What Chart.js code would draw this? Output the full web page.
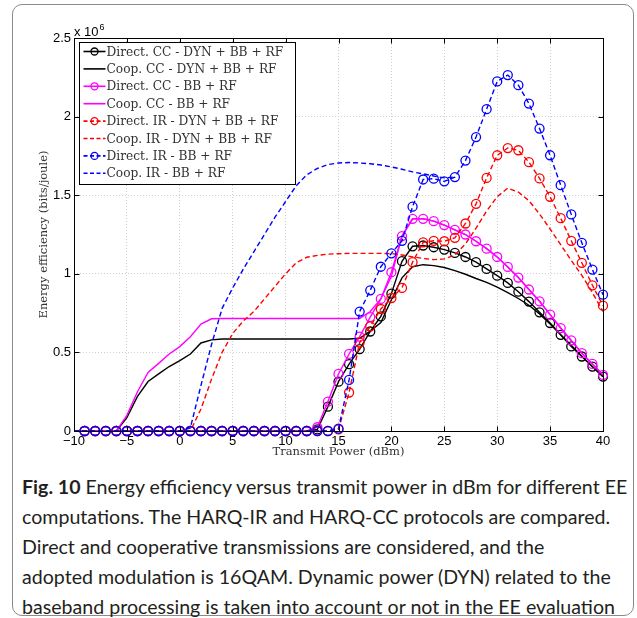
<!DOCTYPE html>
<html>
<head>
<meta charset="utf-8">
<script src="https://cdn.jsdelivr.net/npm/chart.js@4/dist/chart.umd.min.js"></script>
<style>
    html, body {
        margin: 0;
        padding: 0;
        background: #fff;
    }
    .page {
        position: relative;
        width: 637px;
        height: 618px;
        overflow: hidden;
    }
    .frame {
        position: absolute;
        left: 12px;
        top: 4px;
        width: 620px;
        height: 610px;
        border: 1.5px solid #8a8a8a;
        border-radius: 10px;
    }
    #eeChart {
        position: absolute;
        left: 0;
        top: 0;
    }
    .caption {
        position: absolute;
        left: 22px;
        top: 472px;
        font-family: Lato, "Open Sans", sans-serif;
        font-size: 19.6px;
        line-height: 30px;
        letter-spacing: 0;
        color: #231f20;
        white-space: nowrap;
    }
    .caption b {
        font-weight: 700;
    }
</style>
</head>
<body>
<div class="page">
    <div class="frame"></div>
    <canvas id="eeChart" width="637" height="468"></canvas>
    <div class="caption">
        <b>Fig. 10</b> Energy efficiency versus transmit power in dBm for different EE<br>
        computations. The HARQ-IR and HARQ-CC protocols are compared.<br>
        Direct and cooperative transmissions are considered, and the<br>
        adopted modulation is 16QAM. Dynamic power (DYN) related to the<br>
        baseband processing is taken into account or not in the EE evaluation
    </div>
</div>

<script>
// Transmit power grid (dBm)
const powerDbm = [
    -10, -9, -8, -7, -6, -5, -4, -3, -2, -1,
    0, 1, 2, 3, 4, 5, 6, 7, 8, 9,
    10, 11, 12, 13, 14, 15, 16, 17, 18, 19,
    20, 21, 22, 23, 24, 25, 26, 27, 28, 29,
    30, 31, 32, 33, 34, 35, 36, 37, 38, 39,
    40
];

// Energy efficiency, in units of 1e6 bits/joule
const directCcDyn = [
    0, 0, 0, 0, 0, 0, 0, 0, 0, 0,
    0, 0, 0, 0, 0, 0, 0, 0, 0, 0,
    0, 0, 0, 0.01, 0.155, 0.314, 0.425, 0.521, 0.633, 0.729,
    0.874, 1.08, 1.175, 1.18, 1.169, 1.154, 1.133, 1.107, 1.074, 1.031,
    0.988, 0.942, 0.886, 0.823, 0.755, 0.687, 0.612, 0.538, 0.474, 0.41,
    0.346
];
const coopCcDyn = [
    0, 0, 0, 0, 0, 0.085, 0.22, 0.315, 0.363, 0.41,
    0.448, 0.49, 0.56, 0.58, 0.585, 0.585, 0.585, 0.585, 0.585, 0.585,
    0.585, 0.585, 0.585, 0.585, 0.585, 0.585, 0.585, 0.59, 0.635, 0.69,
    0.835, 0.974, 1.045, 1.058, 1.052, 1.04, 1.02, 0.997, 0.97, 0.945,
    0.915, 0.88, 0.843, 0.8, 0.745, 0.68, 0.613, 0.545, 0.475, 0.408,
    0.345
];
const directCcBb = [
    0, 0, 0, 0, 0, 0, 0, 0, 0, 0,
    0, 0, 0, 0, 0, 0, 0, 0, 0, 0,
    0, 0, 0, 0.024, 0.187, 0.363, 0.49, 0.6, 0.725, 0.84,
    1.01, 1.24, 1.35, 1.35, 1.335, 1.31, 1.28, 1.25, 1.207, 1.16,
    1.107, 1.044, 0.976, 0.9, 0.825, 0.74, 0.655, 0.576, 0.495, 0.427,
    0.357
];
const coopCcBb = [
    0, 0, 0, 0, 0, 0.1, 0.25, 0.372, 0.43, 0.49,
    0.537, 0.6, 0.68, 0.714, 0.716, 0.716, 0.716, 0.716, 0.716, 0.716,
    0.716, 0.716, 0.716, 0.716, 0.716, 0.716, 0.716, 0.716, 0.76, 0.84,
    0.984, 1.24, 1.35, 1.35, 1.335, 1.31, 1.28, 1.25, 1.207, 1.16,
    1.107, 1.044, 0.976, 0.9, 0.825, 0.74, 0.655, 0.576, 0.495, 0.427,
    0.357
];
const directIrDyn = [
    0, 0, 0, 0, 0, 0, 0, 0, 0, 0,
    0, 0, 0, 0, 0, 0, 0, 0, 0, 0,
    0, 0, 0, 0, 0, 0.01, 0.245, 0.563, 0.665, 0.776,
    0.846, 0.91, 1.074, 1.2, 1.21, 1.207, 1.229, 1.32, 1.445, 1.61,
    1.754, 1.8, 1.786, 1.71, 1.607, 1.49, 1.354, 1.21, 1.07, 0.927,
    0.797
];
const coopIrDyn = [
    0, 0, 0, 0, 0, 0, 0, 0, 0, 0,
    0, 0, 0.14, 0.33, 0.5, 0.62, 0.7, 0.76, 0.84, 0.92,
    1.0, 1.07, 1.105, 1.117, 1.125, 1.128, 1.13, 1.13, 1.13, 1.13,
    1.128, 1.12, 1.108, 1.098, 1.09, 1.095, 1.12, 1.19, 1.29, 1.4,
    1.49, 1.545, 1.52, 1.465, 1.38, 1.285, 1.185, 1.085, 0.99, 0.88,
    0.76
];
const directIrBb = [
    0, 0, 0, 0, 0, 0, 0, 0, 0, 0,
    0, 0, 0, 0, 0, 0, 0, 0, 0, 0,
    0, 0, 0, 0, 0, 0.015, 0.325, 0.76, 0.895, 1.045,
    1.13, 1.21, 1.427, 1.6, 1.605, 1.588, 1.615, 1.72, 1.87, 2.047,
    2.224, 2.264, 2.2, 2.083, 1.924, 1.754, 1.564, 1.378, 1.197, 1.027,
    0.867
];
// from 26 dBm on this one runs on top of directIrBb, so it stops there
const coopIrBb = [
    0, 0, 0, 0, 0, 0, 0, 0, 0, 0,
    0, 0.02, 0.29, 0.55, 0.78, 0.91, 1.03, 1.14, 1.25, 1.36,
    1.46, 1.56, 1.63, 1.67, 1.695, 1.705, 1.708, 1.705, 1.7, 1.692,
    1.68, 1.665, 1.648, 1.636, 1.622, 1.61, 1.615, null, null, null,
    null, null, null, null, null, null, null, null, null, null,
    null
];

const xTicks = [-10, -5, 0, 5, 10, 15, 20, 25, 30, 35, 40];
const yTicks = [0, 0.5, 1, 1.5, 2, 2.5];

const seriesDefs = [
    { label: 'Direct. CC - DYN + BB + RF', values: directCcDyn, color: '#000000', dashed: false, marker: true },
    { label: 'Coop. CC - DYN + BB + RF', values: coopCcDyn, color: '#000000', dashed: false, marker: false },
    { label: 'Direct. CC - BB + RF', values: directCcBb, color: '#ff00ff', dashed: false, marker: true },
    { label: 'Coop. CC - BB + RF', values: coopCcBb, color: '#ff00ff', dashed: false, marker: false },
    { label: 'Direct. IR - DYN + BB + RF', values: directIrDyn, color: '#ff0000', dashed: true, marker: true },
    { label: 'Coop. IR - DYN + BB + RF', values: coopIrDyn, color: '#ff0000', dashed: true, marker: false },
    { label: 'Direct. IR - BB + RF', values: directIrBb, color: '#0000ff', dashed: true, marker: true },
    { label: 'Coop. IR - BB + RF', values: coopIrBb, color: '#0000ff', dashed: true, marker: false },
];

const LINE_DASH = [5, 3];
const MARKER_RADIUS = 4.5;

function markerRadius(def) {
    // no marker on the very first sample, it sits on the y axis
    return (ctx) => (def.marker && ctx.dataIndex > 0 ? MARKER_RADIUS : 0);
}

const datasets = seriesDefs.map((def, i) => ({
    label: def.label,
    data: powerDbm.map((x, k) => ({ x: x, y: def.values[k] })),
    borderColor: def.color,
    borderWidth: 1.4,
    borderDash: def.dashed ? LINE_DASH : [],
    tension: 0,
    fill: false,
    clip: false,
    spanGaps: false,
    pointStyle: 'circle',
    pointRadius: markerRadius(def),
    pointHoverRadius: 0,
    pointBorderColor: def.color,
    pointBorderWidth: 1.3,
    pointBackgroundColor: 'rgba(0,0,0,0)',
    // later series are painted over earlier ones
    order: seriesDefs.length - i,
}));

function formatTick(value) {
    return value < 0 ? '\u2212' + Math.abs(value) : String(value);
}

// Box, inward ticks, axis titles, exponent and legend
const matlabAxes = {
    id: 'matlabAxes',
    afterDatasetsDraw(chart) {
        const { ctx, chartArea: a, scales } = chart;
        const left = Math.round(a.left) + 0.5;
        const right = Math.round(a.right) + 0.5;
        const top = Math.round(a.top) + 0.5;
        const bottom = Math.round(a.bottom) + 0.5;
        const tickLen = 5;

        ctx.save();
        ctx.strokeStyle = '#000';
        ctx.lineWidth = 1;
        ctx.setLineDash([]);
        ctx.strokeRect(left, top, right - left, bottom - top);

        ctx.beginPath();
        xTicks.forEach((t) => {
            const px = Math.round(scales.x.getPixelForValue(t)) + 0.5;
            ctx.moveTo(px, bottom);
            ctx.lineTo(px, bottom - tickLen);
            ctx.moveTo(px, top);
            ctx.lineTo(px, top + tickLen);
        });
        yTicks.forEach((t) => {
            const py = Math.round(scales.y.getPixelForValue(t)) + 0.5;
            ctx.moveTo(left, py);
            ctx.lineTo(left + tickLen, py);
            ctx.moveTo(right, py);
            ctx.lineTo(right - tickLen, py);
        });
        ctx.stroke();

        // exponent above the y axis
        ctx.fillStyle = '#000';
        ctx.textBaseline = 'alphabetic';
        ctx.textAlign = 'left';
        ctx.font = '13px "Liberation Sans", Arial, sans-serif';
        ctx.fillText('x 10', a.left, a.top - 2);
        const baseWidth = ctx.measureText('x 10').width;
        ctx.font = '9px "Liberation Sans", Arial, sans-serif';
        ctx.fillText('6', a.left + baseWidth + 1, a.top - 8);

        // axis titles
        ctx.fillStyle = '#333';
        ctx.font = '11.5px "DejaVu Serif", serif';
        ctx.textAlign = 'center';
        ctx.textBaseline = 'middle';
        ctx.fillText('Transmit Power (dBm)', (a.left + a.right) / 2, 452);
        ctx.save();
        ctx.translate(44, (a.top + a.bottom) / 2);
        ctx.rotate(-Math.PI / 2);
        ctx.fillText('Energy efficiency (bits/joule)', 0, 0);
        ctx.restore();

        drawLegend(ctx, a);
        ctx.restore();
    },
};

function drawLegend(ctx, a) {
    const boxLeft = a.left + 5.5;
    const boxTop = a.top + 4.5;
    const boxWidth = 216;
    const boxHeight = 142;
    const rowHeight = 17.4;

    ctx.save();
    ctx.fillStyle = '#fff';
    ctx.fillRect(boxLeft, boxTop, boxWidth, boxHeight);
    ctx.strokeStyle = '#000';
    ctx.lineWidth = 1;
    ctx.setLineDash([]);
    ctx.strokeRect(boxLeft, boxTop, boxWidth, boxHeight);

    ctx.font = '12.2px "DejaVu Serif", serif';
    ctx.textAlign = 'left';
    ctx.textBaseline = 'middle';

    seriesDefs.forEach((def, i) => {
        const y = boxTop + 9 + i * rowHeight;
        const x0 = boxLeft + 4;
        const x1 = boxLeft + 26;
        ctx.strokeStyle = def.color;
        ctx.lineWidth = 1.6;
        ctx.setLineDash(def.dashed ? [4, 2.5] : []);
        ctx.beginPath();
        ctx.moveTo(x0, y);
        ctx.lineTo(x1, y);
        ctx.stroke();
        if (def.marker) {
            ctx.setLineDash([]);
            ctx.lineWidth = 1.3;
            ctx.beginPath();
            ctx.arc((x0 + x1) / 2, y, 3.5, 0, Math.PI * 2);
            ctx.stroke();
        }
        ctx.fillStyle = '#333';
        ctx.fillText(def.label, x1 + 1, y + 1);
    });
    ctx.restore();
}

document.addEventListener('DOMContentLoaded', () => {
    const canvas = document.getElementById('eeChart');
    new Chart(canvas.getContext('2d'), {
        type: 'line',
        data: { datasets: datasets },
        options: {
            responsive: false,
            animation: false,
            events: [],
            layout: {
                padding: { left: 30, right: 34, top: 38, bottom: 0 },
            },
            plugins: {
                legend: { display: false },
                tooltip: { enabled: false },
            },
            scales: {
                x: {
                    type: 'linear',
                    min: -10,
                    max: 40,
                    afterFit: (scale) => { scale.height = 37; },
                    afterBuildTicks: (scale) => {
                        scale.ticks = xTicks.map((v) => ({ value: v }));
                    },
                    ticks: {
                        padding: 3,
                        color: '#000',
                        font: { family: '"Liberation Sans", Arial, sans-serif', size: 13 },
                        callback: formatTick,
                    },
                    grid: { color: '#cfcfcf', lineWidth: 1, drawTicks: false },
                    border: { display: false, dash: [1, 2] },
                },
                y: {
                    type: 'linear',
                    min: 0,
                    max: 2.5,
                    afterFit: (scale) => { scale.width = 44; },
                    afterBuildTicks: (scale) => {
                        scale.ticks = yTicks.map((v) => ({ value: v }));
                    },
                    ticks: {
                        padding: 3,
                        color: '#000',
                        font: { family: '"Liberation Sans", Arial, sans-serif', size: 13 },
                        callback: formatTick,
                    },
                    grid: { color: '#cfcfcf', lineWidth: 1, drawTicks: false },
                    border: { display: false, dash: [1, 2] },
                },
            },
        },
        plugins: [matlabAxes],
    });
});
</script>
</body>
</html>
